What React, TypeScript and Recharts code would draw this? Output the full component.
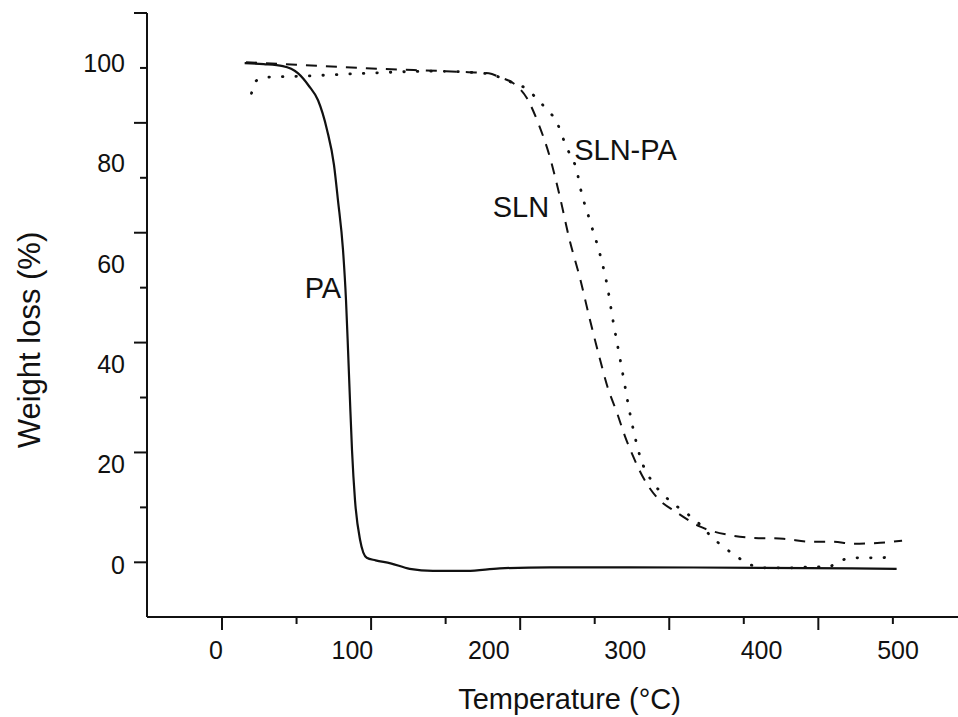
import { LineChart, Line, XAxis, YAxis, ReferenceDot, Label } from "recharts";

// [temperature °C, weight %]
const PA = [
  [21, 100], [35, 99.8], [49, 99.4], [60, 98], [68, 95.5], [74.8, 92.6],
  [81.4, 86.7], [86.5, 79.7], [89.4, 72.7], [93.1, 62.8], [95.3, 52.8],
  [96.8, 42.8], [98.2, 32.9], [99.7, 22.9], [101.9, 12.9], [105.6, 5],
  [110.5, 1.4], [117, 0.9], [128, 0.3], [142, -0.8], [159, -1.2], [184, -1.2],
  [208, -0.7], [245, -0.5], [300, -0.5], [400, -0.6], [499, -0.8],
];

const SLN = [
  [22, 100.2], [50, 99.8], [110, 99], [185, 98.2], [200, 98], [208, 97.2],
  [218, 96], [228, 93], [237, 87.5], [244, 82], [252, 73.5], [259, 65], [267, 57],
  [274, 49], [281, 41.5], [287, 35.5], [294, 30.3], [300, 25.5], [306, 21.5],
  [313, 17.5], [323, 13.5], [338, 10.4], [355, 7.6], [375, 6], [392, 5.4],
  [416, 5.2], [436, 4.6], [452, 4.6], [467, 4.2], [487, 4.4], [503, 4.8],
];

const SLN_PA = [
  [26, 94], [29, 96.4], [37, 97.2], [62, 97.4], [111, 98], [159, 98.4], [196, 98],
  [208, 97.2], [218, 96], [227, 95], [235, 93], [243, 90.6], [250, 88.2],
  [254, 85.3], [258, 82.7], [265, 78], [267, 75.3], [274, 68.7], [282, 61.4],
  [287, 55.4], [291, 48.8], [296, 41.4], [299, 36.9], [302, 32.3], [306, 26.9],
  [311, 21.5], [320, 16.5], [328, 14], [355, 8], [364, 5.4], [373, 3.4],
  [382, 1.6], [392, 0], [401, -0.6], [421, -0.6], [438, -0.4], [449, -0.4],
  [456, 0.6], [467, 1.4], [485, 1.4], [496, 1.6],
];

const X_LABELS = [0, 100, 200, 300, 400, 500];
const Y_LABELS = [0, 20, 40, 60, 80, 100];

// in the original figure the tick marks don't line up with the numbers
const X_MAJOR = [4.4, 113.7, 223, 332.3, 441.6];
const X_MINOR = [59.05, 168.35, 277.65, 386.95, 496.25];
const Y_MAJOR = [0.5, 22.4, 44.3, 66.2, 88.1, 110];
const Y_MINOR = [11.45, 33.35, 55.25, 77.15, 99.05];

const ANNOTATIONS = [
  { text: "PA", t: 78.4, w: 55.2 },
  { text: "SLN", t: 223.6, w: 71.3 },
  { text: "SLN-PA", t: 300.2, w: 82.7 },
];

const INK = "#111";
const FONT = "'Liberation Sans', Arial, sans-serif";

const rows = (pts: number[][]) => pts.map(([t, w]) => ({ t, w }));

function XTick(props: any) {
  const { x, y, payload } = props;
  const v = payload.value;
  if (X_LABELS.includes(v)) {
    return (
      <text x={x} y={y + 33} dy="0.36em" textAnchor="middle" fontSize={25} fill={INK} fontFamily={FONT}>
        {v}
      </text>
    );
  }
  const len = X_MAJOR.includes(v) ? 13 : 7;
  return <line x1={x} x2={x} y1={y} y2={y + len} stroke={INK} strokeWidth={2} />;
}

function YTick(props: any) {
  const { x, y, payload } = props;
  const v = payload.value;
  if (Y_LABELS.includes(v)) {
    return (
      <text x={x - 22} y={y} dy="0.36em" textAnchor="end" fontSize={25} fill={INK} fontFamily={FONT}>
        {v}
      </text>
    );
  }
  const len = Y_MAJOR.includes(v) ? 13 : 7;
  return <line x1={x - len} x2={x} y1={y} y2={y} stroke={INK} strokeWidth={2} />;
}

export default function App() {
  return (
    <div style={{ position: "absolute", left: 0, top: 0, background: "#fff" }}>
      <LineChart width={958} height={717} margin={{ top: 13, right: 0, bottom: 0, left: 0 }}>
        <XAxis
          type="number"
          dataKey="t"
          domain={[-50.6, 544]}
          ticks={[...X_LABELS, ...X_MAJOR, ...X_MINOR]}
          interval={0}
          height={100}
          tickLine={false}
          tickSize={0}
          tickMargin={0}
          tick={<XTick />}
          axisLine={{ stroke: INK, strokeWidth: 2 }}
        >
          <Label
            content={(p: any) => (
              <text
                x={p.viewBox.x + p.viewBox.width / 2 + 17}
                y={p.viewBox.y + 92}
                textAnchor="middle"
                fontSize={29}
                fill={INK}
                fontFamily={FONT}
              >
                Temperature (°C)
              </text>
            )}
          />
        </XAxis>
        <YAxis
          type="number"
          domain={[-10.4, 110]}
          ticks={[...Y_LABELS, ...Y_MAJOR, ...Y_MINOR]}
          interval={0}
          width={147}
          tickLine={false}
          tickSize={0}
          tickMargin={0}
          tick={<YTick />}
          axisLine={{ stroke: INK, strokeWidth: 2 }}
        >
          <Label
            content={() => (
              <text
                x={29}
                y={340}
                dy="0.36em"
                textAnchor="middle"
                transform="rotate(-90, 29, 340)"
                fontSize={31}
                fill={INK}
                fontFamily={FONT}
              >
                Weight loss (%)
              </text>
            )}
          />
        </YAxis>
        <Line data={rows(PA)} dataKey="w" type="monotone" stroke={INK} strokeWidth={2.2} dot={false} isAnimationActive={false} />
        <Line
          data={rows(SLN)}
          dataKey="w"
          type="monotone"
          stroke={INK}
          strokeWidth={2}
          strokeDasharray="11 9"
          dot={false}
          isAnimationActive={false}
        />
        <Line
          data={rows(SLN_PA)}
          dataKey="w"
          type="monotone"
          stroke={INK}
          strokeWidth={2.8}
          strokeDasharray="0.5 13"
          strokeLinecap="round"
          dot={false}
          isAnimationActive={false}
        />
        {ANNOTATIONS.map((a) => (
          <ReferenceDot
            key={a.text}
            x={a.t}
            y={a.w}
            r={0}
            fill="none"
            stroke="none"
            label={{ value: a.text, position: "center", fontSize: 29, fill: INK, fontFamily: FONT }}
          />
        ))}
      </LineChart>
    </div>
  );
}
